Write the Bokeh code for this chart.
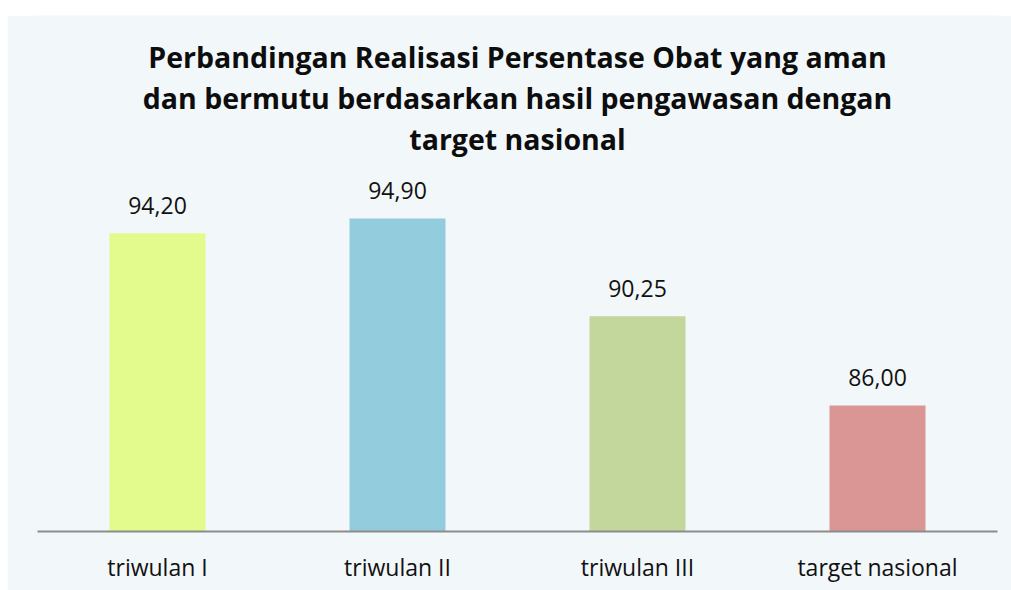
from bokeh.plotting import figure
from bokeh.models import ColumnDataSource, FactorRange, Range1d, Label, Spacer
from bokeh.layouts import column, row
from bokeh.core.properties import value
from bokeh.embed import file_html
from bokeh.resources import INLINE

categories = ["triwulan I", "triwulan II", "triwulan III", "target nasional"]
values = [94.20, 94.90, 90.25, 86.00]
colors = ["#E2FB8C", "#93CDDD", "#C3D69B", "#D99694"]
title_lines = [
    "Perbandingan Realisasi Persentase Obat yang aman",
    "dan bermutu berdasarkan hasil pengawasan dengan",
    "target nasional",
]

labels = [f"{v:.2f}".replace(".", ",") for v in values]
src = ColumnDataSource(dict(cat=categories, val=values, col=colors, lab=labels))

BG = "#F2F7FA"
FONT = "Open Sans"
p = figure(
    x_range=FactorRange(factors=categories, range_padding=0),
    y_range=Range1d(80, 104.56),
    width=1004, height=575,
    output_backend="svg", toolbar_location=None,
    min_border_left=30, min_border_right=14, min_border_top=0, min_border_bottom=59,
)
p.background_fill_color = BG
p.border_fill_color = BG
p.outline_line_color = None
p.xgrid.grid_line_color = None
p.ygrid.grid_line_color = None
p.yaxis.visible = False

p.vbar(x="cat", top="val", bottom=80, width=0.4, fill_color="col", line_color=None, source=src)
p.text(x="cat", y="val", text="lab", source=src, text_align="center", text_baseline="middle",
       y_offset=-28, text_font=value(FONT), text_font_size="23px", text_color="#111111")

ax = p.xaxis[0]
ax.axis_line_color = "#8C8C8C"
ax.axis_line_width = 2
ax.major_tick_line_color = None
ax.minor_tick_line_color = None
ax.major_label_text_font = FONT
ax.major_label_text_font_size = "23px"
ax.major_label_text_color = "#111111"
ax.major_label_standoff = 13

for t, yy in zip(title_lines, [102.6, 100.62, 98.66]):
    p.add_layout(Label(x=2.0, y=yy, text=t, text_align="center", text_baseline="middle",
                       text_font=FONT, text_font_style="bold", text_font_size="28.5px",
                       text_color="#0d0d0d"))

layout = column(Spacer(width=1011, height=15), row(Spacer(width=7, height=575), p))
open("out.html", "w").write(file_html(layout, INLINE))
